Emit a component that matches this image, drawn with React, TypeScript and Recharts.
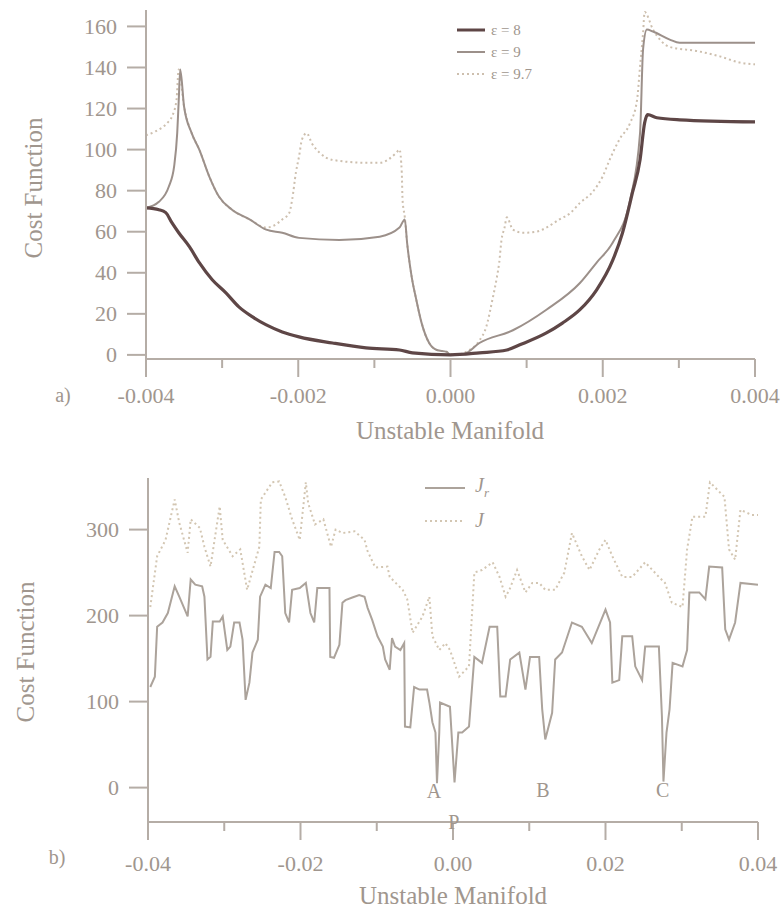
import React from 'react';
import { LineChart, Line, XAxis, YAxis, ReferenceDot } from 'recharts';

type Pt = [number, number];

// panel a) – cost function along the unstable manifold for three values of epsilon
const eps8: Pt[] = [
  [-0.004, 71.6], [-0.00383, 70.7], [-0.00374, 69.3], [-0.00366, 64.4], [-0.00357, 59.5],
  [-0.00343, 52.7], [-0.0033, 44.9], [-0.00313, 36.6], [-0.00295, 30.2], [-0.00278, 23.4],
  [-0.0026, 18.5], [-0.00242, 14.6], [-0.00221, 11.2], [-0.00199, 8.8], [-0.00155, 5.8],
  [-0.00111, 3.4], [-0.00067, 2.4], [-0.0005, 1], [0, 0], [0.00038, 1],
  [0.00074, 2.4], [0.00091, 4.9], [0.00126, 10.7], [0.00147, 15.5], [0.0017, 22],
  [0.00192, 31.7], [0.00213, 46], [0.00226, 59.5], [0.00239, 79], [0.00249, 95],
  [0.00255, 113], [0.00259, 117], [0.00271, 115.5], [0.00301, 114.5], [0.004, 113.5],
];

const eps9: Pt[] = [
  [-0.004, 71.6], [-0.00383, 74.6], [-0.0037, 82], [-0.00363, 92], [-0.00359, 108],
  [-0.00357, 124], [-0.00355, 139], [-0.0035, 121], [-0.0034, 108], [-0.0033, 100],
  [-0.00317, 87], [-0.00304, 77], [-0.00287, 70.7], [-0.00264, 66], [-0.00242, 61],
  [-0.00221, 59.5], [-0.00199, 57], [-0.00146, 56], [-0.00093, 57.6], [-0.00067, 62],
  [-0.0006, 66], [-0.00057, 54.6], [-0.00051, 38], [-0.00045, 27], [-0.00038, 15.6],
  [-0.00028, 5.8], [-0.00018, 2.4], [-0.00005, 1.5], [0, 0], [0.00018, 0.5],
  [0.00038, 5.8], [0.00082, 12], [0.00126, 22], [0.0017, 35], [0.00192, 45],
  [0.00213, 54.6], [0.00236, 75.6], [0.00249, 108], [0.00253, 149], [0.00258, 158.5],
  [0.00266, 157.5], [0.00288, 153.6], [0.00301, 152], [0.004, 152],
];

const eps97: Pt[] = [
  [-0.004, 107], [-0.00387, 109], [-0.00372, 113], [-0.00366, 116], [-0.0036, 124],
  [-0.00357, 139], [-0.0035, 121], [-0.0034, 108], [-0.0033, 100], [-0.00317, 87],
  [-0.00304, 77], [-0.00287, 70.7], [-0.00264, 66], [-0.00242, 62], [-0.00232, 63],
  [-0.00221, 66], [-0.00212, 69], [-0.00208, 75.6], [-0.00203, 89], [-0.00199, 96.6],
  [-0.00195, 105], [-0.00189, 108], [-0.00182, 103], [-0.00172, 98.5], [-0.00155, 95],
  [-0.00111, 93.6], [-0.00093, 93.6], [-0.00071, 98.5], [-0.00067, 100], [-0.00064, 88.8],
  [-0.00063, 75.6], [-0.0006, 67], [-0.00057, 54.6], [-0.00051, 38], [-0.00045, 27],
  [-0.00038, 15.6], [-0.00028, 5.8], [-0.00018, 2.4], [-0.00005, 1.5], [0.00005, 0],
  [0.00025, 2.4], [0.00038, 7], [0.00047, 13.7], [0.00055, 26.8], [0.00061, 38],
  [0.00064, 45], [0.00067, 56], [0.00071, 62], [0.00074, 67], [0.00082, 61],
  [0.00095, 59.5], [0.00113, 60], [0.00126, 62], [0.00143, 66], [0.00157, 69],
  [0.0017, 74], [0.00187, 79.5], [0.002, 87], [0.00209, 95], [0.00222, 105],
  [0.00236, 113], [0.00245, 124], [0.00249, 140.5], [0.00253, 157], [0.00255, 167],
  [0.00266, 158.5], [0.00288, 150], [0.00324, 148], [0.00354, 145.4], [0.0038, 142.4],
  [0.004, 141.5],
];

// panel b) – wider window, two cost functions
const costJr: Pt[] = [
  [-0.0397, 117], [-0.0391, 129], [-0.0388, 187], [-0.0381, 192], [-0.0374, 203],
  [-0.0365, 234], [-0.0359, 222], [-0.0348, 199], [-0.0344, 242], [-0.0338, 236],
  [-0.0329, 234], [-0.0326, 222], [-0.0322, 149], [-0.0318, 152], [-0.0315, 193],
  [-0.0306, 193], [-0.0302, 199], [-0.0296, 160], [-0.0292, 164], [-0.0287, 192],
  [-0.028, 192], [-0.0276, 172], [-0.0272, 102], [-0.0267, 122], [-0.0263, 157],
  [-0.0256, 172], [-0.0253, 222], [-0.0246, 236], [-0.0239, 232], [-0.0234, 274],
  [-0.0228, 274], [-0.0224, 269], [-0.022, 203], [-0.0215, 192], [-0.0211, 230],
  [-0.0201, 232], [-0.0193, 238], [-0.0187, 203], [-0.0182, 192], [-0.0178, 232],
  [-0.0162, 232], [-0.0161, 152], [-0.0156, 151], [-0.0149, 166], [-0.0145, 215],
  [-0.0141, 218], [-0.0132, 221], [-0.0123, 224], [-0.0116, 222], [-0.0112, 209],
  [-0.0106, 195], [-0.0099, 176], [-0.0092, 164], [-0.0089, 149], [-0.0083, 137],
  [-0.008, 174], [-0.0076, 164], [-0.0069, 160], [-0.0064, 168], [-0.0063, 71],
  [-0.0056, 70], [-0.0051, 117], [-0.0044, 114], [-0.0034, 114], [-0.0031, 99],
  [-0.0027, 76], [-0.0023, 64], [-0.0021, 5], [-0.0018, 64], [-0.0017, 99],
  [-0.0004, 94], [0.0002, 6], [0.0007, 64], [0.0012, 64], [0.0021, 71],
  [0.0028, 152], [0.0038, 145], [0.0048, 187], [0.0058, 187], [0.0062, 106],
  [0.0069, 106], [0.0075, 149], [0.0087, 157], [0.0095, 114], [0.0101, 152],
  [0.0113, 152], [0.0117, 91], [0.0121, 56], [0.013, 87], [0.0134, 149],
  [0.0143, 157], [0.0156, 192], [0.0169, 187], [0.0182, 168], [0.02, 207],
  [0.0206, 192], [0.0209, 122], [0.0218, 125], [0.0222, 176], [0.0235, 176],
  [0.0239, 141], [0.0248, 125], [0.0252, 164], [0.027, 164], [0.0274, 83],
  [0.0276, 7], [0.028, 64], [0.0284, 91], [0.0288, 145], [0.0301, 141],
  [0.0307, 160], [0.031, 227], [0.0323, 227], [0.0331, 219], [0.0336, 257],
  [0.0353, 256], [0.0357, 184], [0.0362, 172], [0.037, 192], [0.0377, 238],
  [0.04, 236],
];

const costJ: Pt[] = [
  [-0.0397, 210], [-0.0388, 269], [-0.0377, 288], [-0.0365, 335], [-0.0359, 308],
  [-0.0348, 273], [-0.0344, 312], [-0.0332, 302], [-0.0326, 280], [-0.0318, 257],
  [-0.0306, 327], [-0.0302, 288], [-0.0289, 269], [-0.0279, 277], [-0.027, 230],
  [-0.0254, 280], [-0.0252, 335], [-0.0237, 355], [-0.0228, 356], [-0.022, 338],
  [-0.0211, 312], [-0.0201, 288], [-0.0193, 355], [-0.019, 331], [-0.0181, 306],
  [-0.017, 312], [-0.016, 280], [-0.0154, 300], [-0.0145, 296], [-0.0129, 298],
  [-0.0116, 288], [-0.0112, 275], [-0.0102, 256], [-0.0086, 257], [-0.0083, 245],
  [-0.0066, 230], [-0.006, 219], [-0.0053, 180], [-0.004, 199], [-0.0031, 222],
  [-0.0027, 176], [-0.0018, 160], [-0.001, 168], [-0.0004, 160], [0.0008, 129],
  [0.0021, 141], [0.0028, 250], [0.0038, 253], [0.0052, 262], [0.0061, 245],
  [0.0069, 222], [0.0074, 230], [0.0084, 253], [0.0095, 227], [0.0104, 238],
  [0.0113, 238], [0.0121, 230], [0.0134, 230], [0.0146, 250], [0.0156, 296],
  [0.0169, 269], [0.0179, 253], [0.0192, 277], [0.02, 288], [0.0209, 269],
  [0.0222, 245], [0.0235, 245], [0.0252, 262], [0.027, 245], [0.0278, 238],
  [0.0287, 215], [0.0301, 210], [0.0307, 277], [0.0314, 315], [0.0331, 315],
  [0.0337, 355], [0.0356, 338], [0.0362, 277], [0.037, 265], [0.0377, 323],
  [0.0392, 317], [0.04, 317],
];

const topXTicks = [-0.004, -0.003, -0.002, -0.001, 0, 0.001, 0.002, 0.003, 0.004];
const topYTicks = [0, 20, 40, 60, 80, 100, 120, 140, 160];
const botXTicks = [-0.04, -0.03, -0.02, -0.01, 0, 0.01, 0.02, 0.03, 0.04];
const botYTicks = [0, 100, 200, 300];

const topLegend = ['ε = 8', 'ε = 9', 'ε = 9.7'];
const pointLabels: { name: string; x: number; y: number }[] = [
  { name: 'A', x: -0.0025, y: -4 },
  { name: 'B', x: 0.0118, y: -3 },
  { name: 'C', x: 0.0275, y: -3 },
  { name: 'P', x: 0.0001, y: -40 },
];

const toRows = (pts: Pt[]) => pts.map(([x, y]) => ({ x, y }));

const FONT = '"Liberation Serif", "Times New Roman", "DejaVu Serif", serif';
const TXT = '#a0968e';
const AXIS = '#b5ada6';

const C8 = '#5e4646';
const C9 = '#9c908a';
const C97 = '#cdbfae';
const CJR = '#aca39b';
const CJ = '#d3c6b2';

const makeXTick = (step: number, digits: number, labelDy: number) => (props: any) => {
  const { x, y, payload } = props;
  const major = Math.round(payload.value / step) % 2 === 0;
  const v = Math.abs(payload.value) < 1e-12 ? 0 : payload.value;
  return (
    <g>
      <line x1={x} x2={x} y1={y} y2={y + (major ? 18 : 9)} stroke={AXIS} strokeWidth={2} />
      {major && (
        <text x={x} y={y + labelDy} textAnchor="middle" dominantBaseline="central"
          fontFamily={FONT} fontSize={22} fill={TXT}>
          {v.toFixed(digits)}
        </text>
      )}
    </g>
  );
};

const YTick = (props: any) => {
  const { x, y, payload } = props;
  return (
    <g>
      <line x1={x - 19} x2={x} y1={y} y2={y} stroke={AXIS} strokeWidth={2} />
      <text x={x - 29} y={y} textAnchor="end" dominantBaseline="central"
        fontFamily={FONT} fontSize={22} fill={TXT}>
        {payload.value}
      </text>
    </g>
  );
};

const textAbs = (left: number, top: number, rotate = false): React.CSSProperties => ({
  position: 'absolute',
  left,
  top,
  transform: `translate(-50%, -50%)${rotate ? ' rotate(-90deg)' : ''}`,
  whiteSpace: 'nowrap',
  fontFamily: FONT,
  fontSize: 25,
  lineHeight: 1,
  color: TXT,
});

const TopLegend = () => (
  <div style={{ position: 'absolute', left: 455, top: 19, fontFamily: FONT, fontSize: 15, color: TXT }}>
    {topLegend.map((name, i) => (
      <div key={name} style={{ display: 'flex', alignItems: 'center', height: 22 }}>
        <svg width={32} height={8}>
          <line x1={2} x2={30} y1={4} y2={4}
            stroke={[C8, C9, C97][i]} strokeWidth={i === 0 ? 3 : 2}
            strokeDasharray={i === 2 ? '2 3' : undefined} />
        </svg>
        <span style={{ marginLeft: 4 }}>{name}</span>
      </div>
    ))}
  </div>
);

const BottomLegend = () => (
  <div style={{ position: 'absolute', left: 423, top: 471, fontFamily: FONT, fontSize: 20, color: TXT }}>
    <div style={{ display: 'flex', alignItems: 'center', height: 33 }}>
      <svg width={44} height={8}>
        <line x1={2} x2={42} y1={4} y2={4} stroke={CJR} strokeWidth={2} />
      </svg>
      <span style={{ marginLeft: 8, fontStyle: 'italic' }}>J<sub style={{ fontSize: 13 }}>r</sub></span>
    </div>
    <div style={{ display: 'flex', alignItems: 'center', height: 33 }}>
      <svg width={44} height={8}>
        <line x1={2} x2={42} y1={4} y2={4} stroke={CJ} strokeWidth={2} strokeDasharray="2 3" />
      </svg>
      <span style={{ marginLeft: 8, fontStyle: 'italic' }}>J</span>
    </div>
  </div>
);

export default function App() {
  return (
    <div style={{ position: 'absolute', left: 0, top: 0, width: 784, height: 909, background: '#fff' }}>
      <div style={{ position: 'absolute', left: 0, top: 0 }}>
        <LineChart width={784} height={420} margin={{ top: 10, right: 29, left: 0, bottom: 0 }}>
          <XAxis type="number" dataKey="x" domain={[-0.004, 0.004]} ticks={topXTicks} interval={0}
            height={61} tickSize={0} tickMargin={0} tickLine={false}
            axisLine={{ stroke: AXIS, strokeWidth: 2 }} tick={makeXTick(0.001, 3, 36)} />
          <YAxis type="number" domain={[-2, 168]} ticks={topYTicks} interval={0} width={146}
            tickSize={0} tickMargin={0} tickLine={false}
            axisLine={{ stroke: AXIS, strokeWidth: 2 }} tick={<YTick />} />
          <Line type="monotoneX" data={toRows(eps97)} dataKey="y" stroke={C97} strokeWidth={2}
            strokeDasharray="2 3" dot={false} isAnimationActive={false} />
          <Line type="monotoneX" data={toRows(eps9)} dataKey="y" stroke={C9} strokeWidth={2}
            dot={false} isAnimationActive={false} />
          <Line type="monotoneX" data={toRows(eps8)} dataKey="y" stroke={C8} strokeWidth={3.2}
            dot={false} isAnimationActive={false} />
        </LineChart>
      </div>

      <div style={{ position: 'absolute', left: 0, top: 450 }}>
        <LineChart width={784} height={450} margin={{ top: 28, right: 26, left: 0, bottom: 0 }}>
          <XAxis type="number" dataKey="x" domain={[-0.04, 0.04]} ticks={botXTicks} interval={0}
            height={78} tickSize={0} tickMargin={0} tickLine={false}
            axisLine={{ stroke: AXIS, strokeWidth: 2 }} tick={makeXTick(0.01, 2, 41)} />
          <YAxis type="number" domain={[-40, 360]} ticks={botYTicks} interval={0} width={148}
            tickSize={0} tickMargin={0} tickLine={false}
            axisLine={{ stroke: AXIS, strokeWidth: 2 }} tick={<YTick />} />
          <Line data={toRows(costJ)} dataKey="y" stroke={CJ} strokeWidth={2} strokeDasharray="2 3"
            dot={false} isAnimationActive={false} />
          <Line data={toRows(costJr)} dataKey="y" stroke={CJR} strokeWidth={2} dot={false}
            isAnimationActive={false} />
          {pointLabels.map((p) => (
            <ReferenceDot key={p.name} x={p.x} y={p.y} r={0} fill="none" stroke="none"
              ifOverflow="visible"
              label={{ value: p.name, position: 'center', fontFamily: FONT, fontSize: 20, fill: TXT }} />
          ))}
        </LineChart>
      </div>

      <TopLegend />
      <BottomLegend />

      <div style={textAbs(33, 188, true)}>Cost Function</div>
      <div style={textAbs(450, 430)}>Unstable Manifold</div>
      <div style={{ ...textAbs(63, 395), fontSize: 20 }}>a)</div>

      <div style={textAbs(25, 652, true)}>Cost Function</div>
      <div style={textAbs(453, 895)}>Unstable Manifold</div>
      <div style={{ ...textAbs(57, 857), fontSize: 20 }}>b)</div>
    </div>
  );
}
